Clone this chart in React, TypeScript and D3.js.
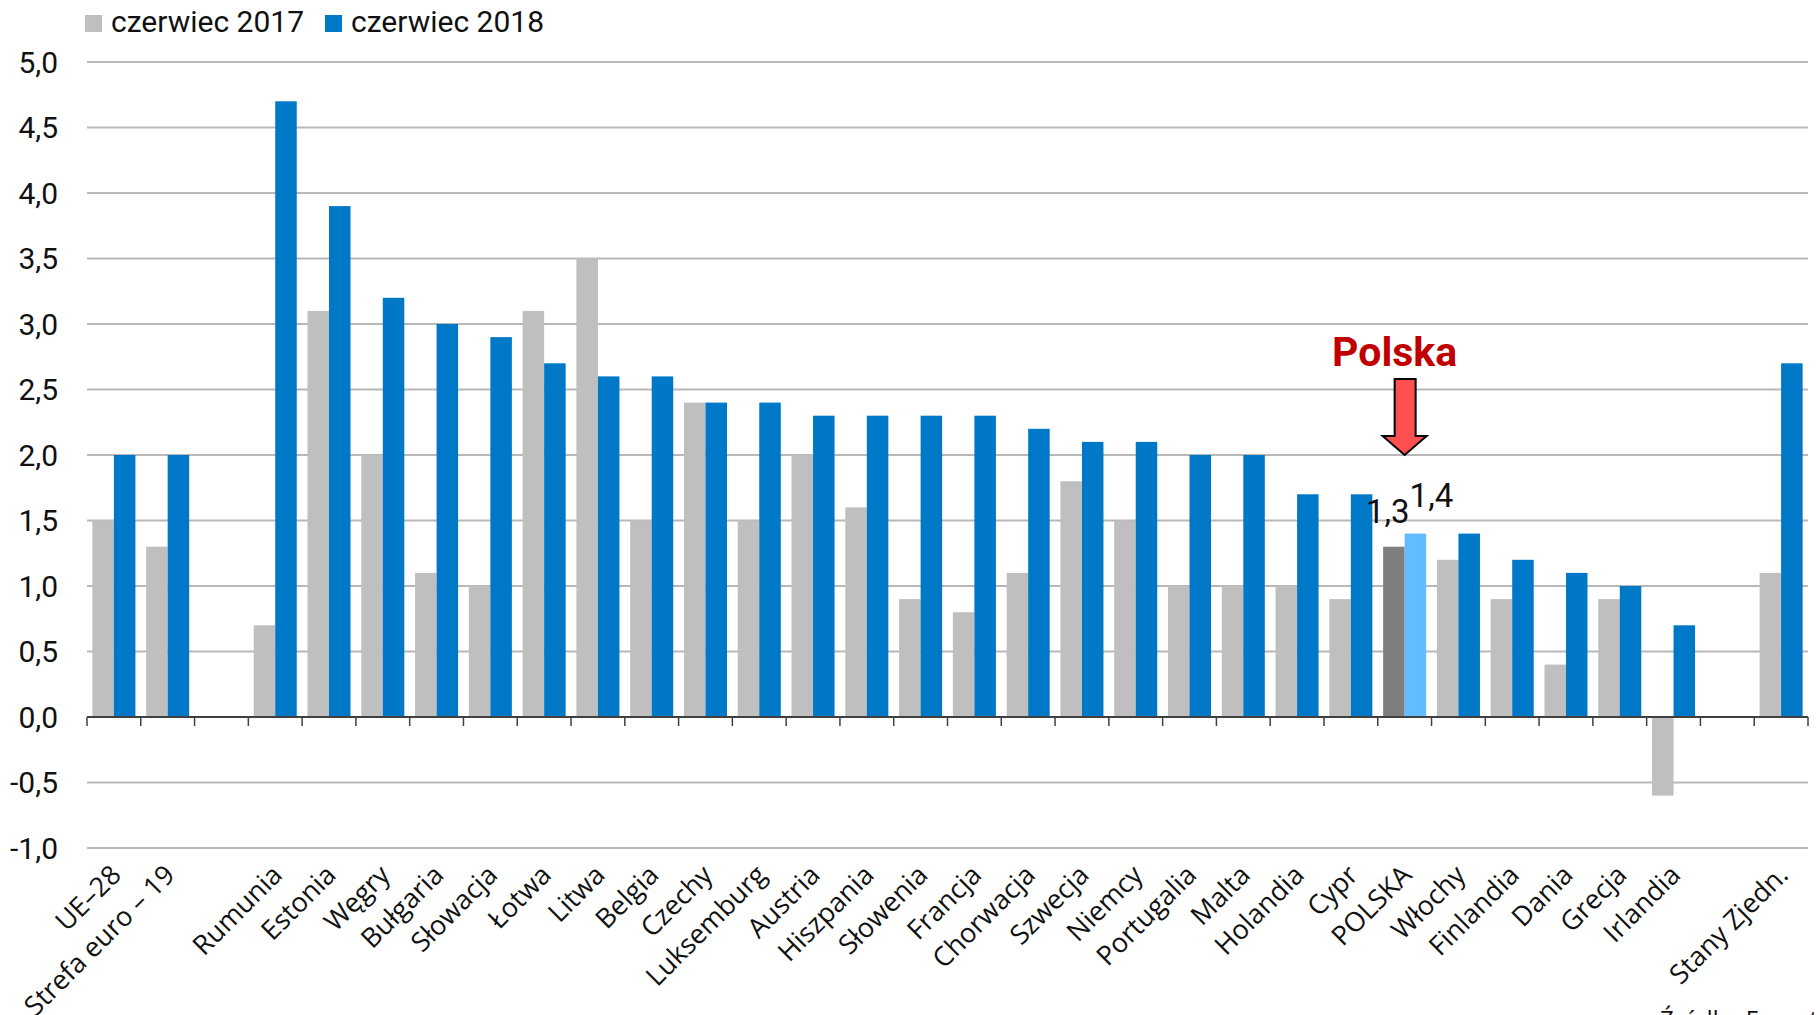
import React, { useEffect, useRef } from 'react';
import * as d3 from 'd3';

// country labels ('' = empty slot in the chart)
const categories = [
    'UE–28', 'Strefa euro – 19', '', 'Rumunia', 'Estonia', 'Węgry', 'Bułgaria', 'Słowacja',
    'Łotwa', 'Litwa', 'Belgia', 'Czechy', 'Luksemburg', 'Austria', 'Hiszpania', 'Słowenia',
    'Francja', 'Chorwacja', 'Szwecja', 'Niemcy', 'Portugalia', 'Malta', 'Holandia', 'Cypr',
    'POLSKA', 'Włochy', 'Finlandia', 'Dania', 'Grecja', 'Irlandia', '', 'Stany Zjedn.'
];

const values2017 = [
    1.5, 1.3, null, 0.7, 3.1, 2.0, 1.1, 1.0,
    3.1, 3.5, 1.5, 2.4, 1.5, 2.0, 1.6, 0.9,
    0.8, 1.1, 1.8, 1.5, 1.0, 1.0, 1.0, 0.9,
    1.3, 1.2, 0.9, 0.4, 0.9, -0.6, null, 1.1
];

const values2018 = [
    2.0, 2.0, null, 4.7, 3.9, 3.2, 3.0, 2.9,
    2.7, 2.6, 2.6, 2.4, 2.4, 2.3, 2.3, 2.3,
    2.3, 2.2, 2.1, 2.1, 2.0, 2.0, 1.7, 1.7,
    1.4, 1.4, 1.2, 1.1, 1.0, 0.7, null, 2.7
];

const yTicks = [-1.0, -0.5, 0, 0.5, 1.0, 1.5, 2.0, 2.5, 3.0, 3.5, 4.0, 4.5, 5.0];
const seriesNames = ['czerwiec 2017', 'czerwiec 2018'];
const highlight = 'POLSKA';

const App = () => {
    const svgRef = useRef(null);

    useEffect(() => {
        const svg = d3.select(svgRef.current);
        svg.selectAll('*').remove();

        const width = 1816;
        const height = 1015;
        const plotLeft = 87;
        const plotRight = 1808;

        const fmt = (v: number) => d3.format('.1f')(v).replace('.', ',').replace('−', '-');

        const x = d3.scaleBand<number>()
            .domain(d3.range(categories.length))
            .range([plotLeft, plotRight])
            .padding(0);

        const y = d3.scaleLinear()
            .domain([-1, 5])
            .range([848, 62]);

        const inner = d3.scaleBand<number>()
            .domain([0, 1])
            .range([x.bandwidth() * 0.1, x.bandwidth() * 0.9])
            .padding(0);

        svg.attr('width', width).attr('height', height);

        // gridlines
        svg.append('g')
            .selectAll('line')
            .data(yTicks.filter(d => d !== 0))
            .enter()
            .append('line')
            .attr('x1', plotLeft)
            .attr('x2', plotRight)
            .attr('y1', d => y(d))
            .attr('y2', d => y(d))
            .attr('stroke', '#b8b8b8')
            .attr('stroke-width', 2);

        // y labels
        svg.append('g')
            .selectAll('text')
            .data(yTicks)
            .enter()
            .append('text')
            .attr('x', 58)
            .attr('y', d => y(d))
            .attr('dy', '0.36em')
            .attr('text-anchor', 'end')
            .style('font-family', 'Roboto, sans-serif')
            .style('font-size', '30px')
            .style('fill', '#111')
            .text(d => fmt(d));

        // bars
        const bars = svg.append('g');
        const series = [values2017, values2018];
        const colors = ['#bfbfbf', '#0078c8'];
        const hiColors = ['#7f7f7f', '#62bcff'];
        series.forEach((vals, si) => {
            bars.selectAll(`.bar-${si}`)
                .data(vals.map((v, i) => ({ v, i })).filter(d => d.v !== null))
                .enter()
                .append('rect')
                .attr('class', `bar-${si}`)
                .attr('x', d => (x(d.i) as number) + (inner(si) as number))
                .attr('width', inner.bandwidth())
                .attr('y', d => y(Math.max(0, d.v as number)))
                .attr('height', d => Math.abs(y(d.v as number) - y(0)))
                .attr('fill', d => categories[d.i] === highlight ? hiColors[si] : colors[si]);
        });

        // zero axis with ticks between categories
        svg.append('line')
            .attr('x1', plotLeft)
            .attr('x2', plotRight)
            .attr('y1', y(0))
            .attr('y2', y(0))
            .attr('stroke', '#404040')
            .attr('stroke-width', 2);
        svg.append('g')
            .selectAll('line')
            .data(d3.range(categories.length + 1))
            .enter()
            .append('line')
            .attr('x1', d => plotLeft + d * x.step())
            .attr('x2', d => plotLeft + d * x.step())
            .attr('y1', y(0))
            .attr('y2', y(0) + 9)
            .attr('stroke', '#404040')
            .attr('stroke-width', 1.5);

        // x labels
        svg.append('g')
            .selectAll('text')
            .data(categories.map((c, i) => ({ c, i })).filter(d => d.c !== ''))
            .enter()
            .append('text')
            .attr('transform', d => `translate(${(x(d.i) as number) + x.bandwidth() / 2 + 2},${870}) rotate(-45)`)
            .attr('dy', '0.35em')
            .attr('text-anchor', 'end')
            .style('font-family', '"Open Sans", sans-serif')
            .style('font-size', '27px')
            .style('fill', '#111')
            .text(d => d.c);

        // legend
        const legend = svg.append('g');
        const legendX = [85, 325];
        seriesNames.forEach((name, i) => {
            legend.append('rect')
                .attr('x', legendX[i])
                .attr('y', 15)
                .attr('width', 17)
                .attr('height', 17)
                .attr('fill', colors[i]);
            legend.append('text')
                .attr('x', legendX[i] + 26)
                .attr('y', 32)
                .style('font-family', 'Roboto, sans-serif')
                .style('font-size', '30px')
                .style('fill', '#111')
                .text(name);
        });

        // Polska annotation
        const pi = categories.indexOf(highlight);
        const pCenter = (x(pi) as number) + x.bandwidth() / 2;
        const tipY = y(2.0);
        const arrow = [
            [pCenter - 10, tipY - 76],
            [pCenter + 11, tipY - 76],
            [pCenter + 11, tipY - 19],
            [pCenter + 22, tipY - 19],
            [pCenter, tipY],
            [pCenter - 22, tipY - 19],
            [pCenter - 10, tipY - 19]
        ];
        svg.append('path')
            .attr('d', d3.line()(arrow as [number, number][]) + 'Z')
            .attr('fill', '#ff5050')
            .attr('stroke', '#000')
            .attr('stroke-width', 2);
        svg.append('text')
            .attr('x', pCenter - 10)
            .attr('y', tipY - 89)
            .attr('text-anchor', 'middle')
            .style('font-family', 'Roboto, sans-serif')
            .style('font-weight', 'bold')
            .style('font-size', '41px')
            .style('fill', '#c00000')
            .text('Polska');

        // value labels for Polska
        const lab = [
            { v: values2017[pi] as number, dx: -6, dy: -24, si: 0 },
            { v: values2018[pi] as number, dx: 16, dy: -27, si: 1 }
        ];
        svg.append('g')
            .selectAll('text')
            .data(lab)
            .enter()
            .append('text')
            .attr('x', d => (x(pi) as number) + (inner(d.si) as number) + inner.bandwidth() / 2 + d.dx)
            .attr('y', d => y(d.v) + d.dy)
            .attr('text-anchor', 'middle')
            .style('font-family', 'Roboto, sans-serif')
            .style('font-size', '33px')
            .style('fill', '#111')
            .text(d => fmt(d.v));

        // source
        svg.append('text')
            .attr('x', 1660)
            .attr('y', 1028)
            .style('font-family', '"Open Sans", sans-serif')
            .style('font-size', '24px')
            .style('fill', '#111')
            .text('Źródło: Eurostat');
    }, []);

    return (
        <>
            <style>{'body{margin:0;background:#fff}'}</style>
            <svg ref={svgRef} style={{ display: 'block' }}></svg>
        </>
    );
};

export default App;
